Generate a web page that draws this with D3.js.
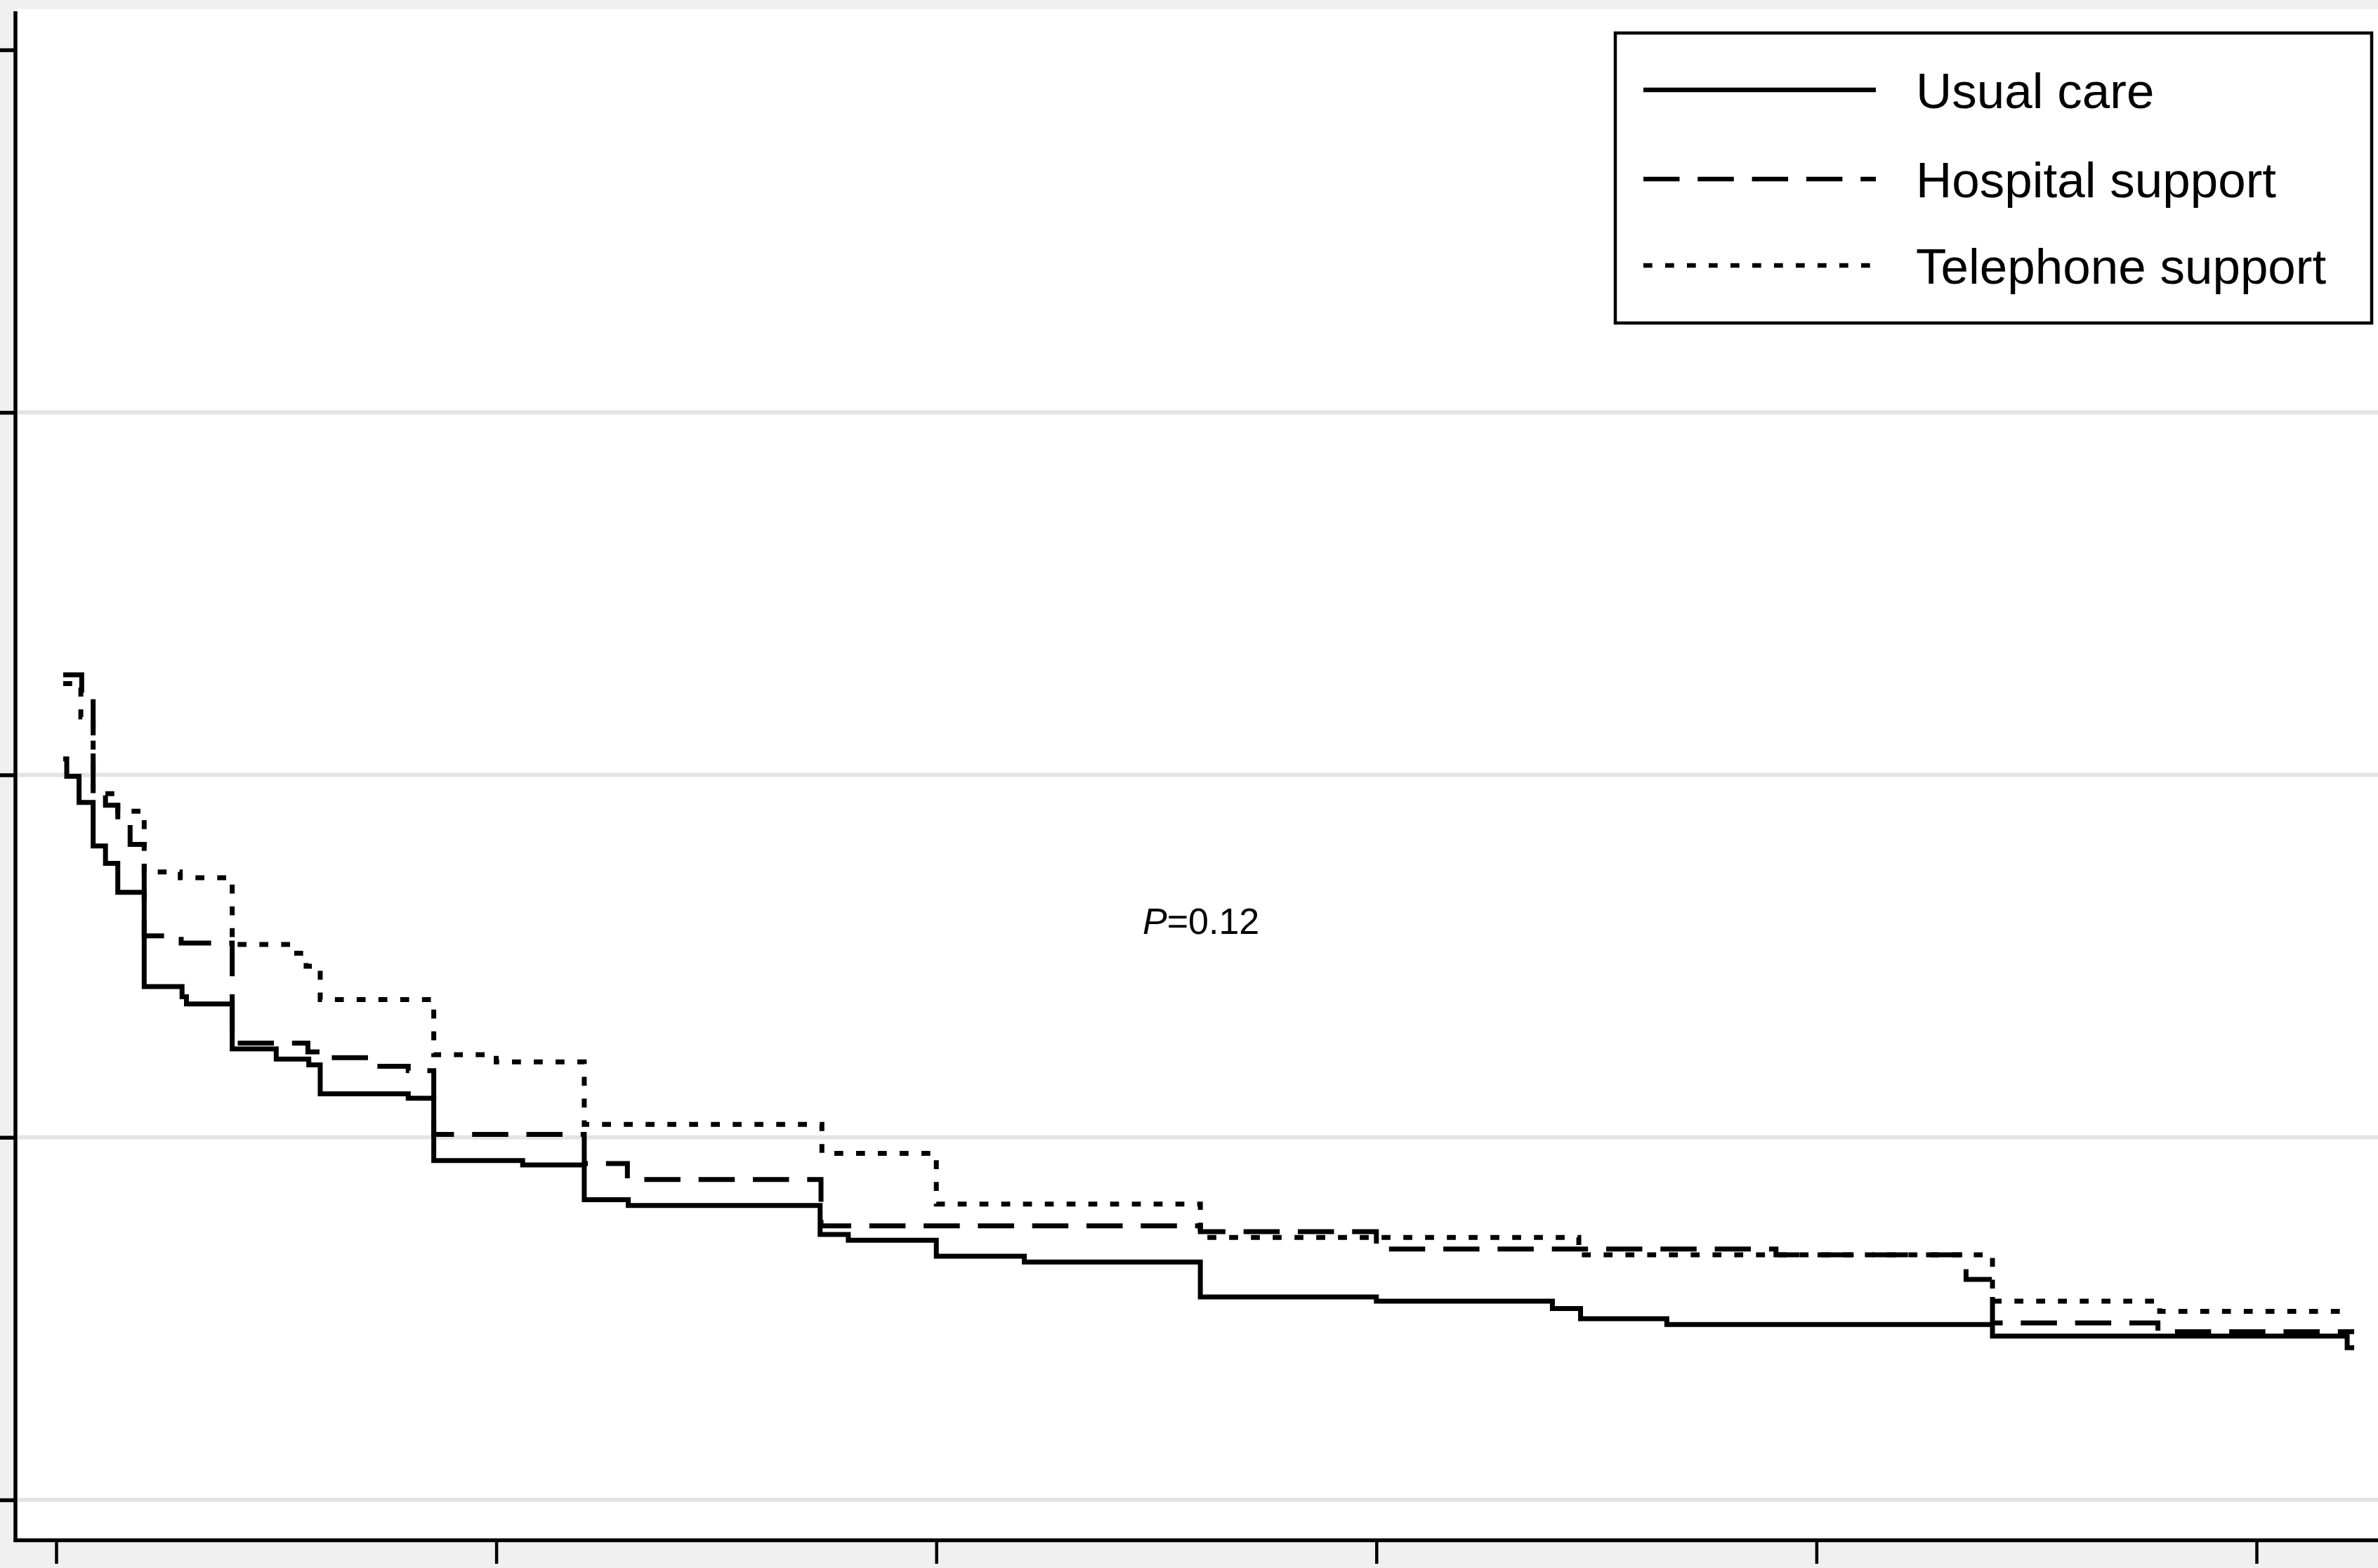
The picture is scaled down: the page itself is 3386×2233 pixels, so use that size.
<!DOCTYPE html>
<html>
<head>
<meta charset="utf-8">
<script src="https://cdn.jsdelivr.net/npm/d3@7"></script>
<style>
  html, body { margin: 0; padding: 0; background: #f0f0f0; }
  svg { display: block; }
</style>
</head>
<body>
<svg id="chart" width="3386" height="2233"></svg>
<script>
// ---------------- DATA ----------------
const xTicks = [0, 5, 10, 15, 20, 25];
const yTicks = [0, 0.25, 0.5, 0.75, 1];

const seriesNames = ["Usual care", "Hospital support", "Telephone support"];

const usualTime = [0.08, 0.12, 0.26, 0.42, 0.56, 0.70, 1.0, 1.43, 1.48, 2.0, 2.5, 2.87, 3.0, 4.0, 4.29, 5.3, 6.0, 6.5, 8.68, 9.0, 10.0, 11.0, 13.0, 15.0, 17.0, 17.32, 18.3, 22.0, 26.03, 26.11];
const usualSurv = [0.511, 0.499, 0.481, 0.451, 0.439, 0.419, 0.354, 0.347, 0.342, 0.311, 0.304, 0.300, 0.280, 0.277, 0.234, 0.231, 0.207, 0.203, 0.183, 0.179, 0.168, 0.164, 0.140, 0.137, 0.132, 0.125, 0.121, 0.113, 0.105, 0.105];

const hospTime = [0.08, 0.29, 0.42, 0.56, 0.70, 0.84, 1.0, 1.42, 2.0, 2.86, 3.0, 3.58, 4.0, 4.29, 6.0, 6.49, 8.69, 13.0, 15.0, 19.54, 21.7, 22.0, 23.88, 26.11];
const hospSurv = [0.569, 0.553, 0.486, 0.479, 0.469, 0.452, 0.389, 0.384, 0.315, 0.309, 0.305, 0.299, 0.296, 0.252, 0.232, 0.221, 0.189, 0.185, 0.173, 0.169, 0.152, 0.122, 0.116, 0.116];

const teleTime = [0.08, 0.28, 0.42, 0.70, 1.0, 1.41, 2.0, 2.70, 2.84, 3.0, 4.29, 5.0, 6.0, 8.7, 10.0, 13.0, 17.3, 22.0, 23.9, 26.09];
const teleSurv = [0.563, 0.540, 0.487, 0.475, 0.433, 0.429, 0.383, 0.377, 0.368, 0.345, 0.307, 0.302, 0.259, 0.239, 0.204, 0.181, 0.169, 0.137, 0.130, 0.130];

const pText = "=0.12";

// ---------------- LAYOUT ----------------
const W = 3386, H = 2233;
const plotLeft = 22, plotRight = 3386, plotTop = 13, plotBottom = 2193;
const FONT = "'Liberation Sans', Arial, Helvetica, sans-serif";

const svg = d3.select("#chart");

const x = d3.scaleLinear().domain([0, 25]).range([80, 3213]);
const y = d3.scaleLinear().domain([0, 1]).range([2136, 71]);

// background
svg.append("rect").attr("x", 0).attr("y", 0).attr("width", W).attr("height", H).attr("fill", "#f0f0f0");
svg.append("rect").attr("x", plotLeft).attr("y", plotTop)
  .attr("width", plotRight - plotLeft).attr("height", plotBottom - plotTop).attr("fill", "#ffffff");

// gridlines
svg.append("g").selectAll("line")
  .data(yTicks.filter(d => d < 1))
  .join("line")
  .attr("x1", plotLeft + 3).attr("x2", plotRight)
  .attr("y1", d => y(d)).attr("y2", d => y(d))
  .attr("stroke", "#e4e4e4").attr("stroke-width", 6);

// curves
const line = d3.line()
  .x(d => x(d[0]))
  .y(d => y(d[1]))
  .curve(d3.curveStepAfter);

const series = [
  { name: seriesNames[0], t: usualTime, s: usualSurv, dash: null },
  { name: seriesNames[1], t: hospTime, s: hospSurv, dash: "51.5,25.8" },
  { name: seriesNames[2], t: teleTime, s: teleSurv, dash: "12.7,18.3" }
];

const curveG = svg.append("g");
[2, 1, 0].forEach(i => {
  const sr = series[i];
  const pts = sr.t.map((t, k) => [t, sr.s[k]]);
  curveG.append("path")
    .attr("d", line(pts))
    .attr("fill", "none")
    .attr("stroke", "#000")
    .attr("stroke-width", 7)
    .attr("stroke-linejoin", "miter")
    .attr("stroke-linecap", "butt")
    .attr("stroke-dasharray", sr.dash);
});

// axes
const yAxis = d3.axisLeft(y).tickValues(yTicks).tickSize(32).tickSizeOuter(0).tickFormat("");
const yg = svg.append("g").attr("transform", `translate(${plotLeft},0)`).call(yAxis);
yg.select(".domain").remove();
yg.selectAll(".tick line").attr("stroke", "#000").attr("stroke-width", 5.5);
svg.append("line").attr("x1", plotLeft).attr("x2", plotLeft)
  .attr("y1", 16).attr("y2", plotBottom + 2.5)
  .attr("stroke", "#000").attr("stroke-width", 5.5);

const xAxis = d3.axisBottom(x).tickValues(xTicks).tickSize(32).tickSizeOuter(0).tickFormat("");
const xg = svg.append("g").attr("transform", `translate(0,${plotBottom + 2})`).call(xAxis);
xg.select(".domain").remove();
xg.selectAll(".tick line").attr("stroke", "#000").attr("stroke-width", 4.5);
svg.append("line").attr("x1", plotLeft - 2.75).attr("x2", plotRight)
  .attr("y1", plotBottom + 0.5).attr("y2", plotBottom + 0.5)
  .attr("stroke", "#000").attr("stroke-width", 5.5);

// P value annotation
const pt = svg.append("text")
  .attr("x", 1627).attr("y", 1330)
  .attr("font-family", FONT)
  .attr("font-size", 52)
  .attr("fill", "#000");
pt.append("tspan").attr("font-style", "italic").text("P");
pt.append("tspan").text(pText);

// legend
const lg = svg.append("g");
lg.append("rect").attr("x", 2300).attr("y", 47).attr("width", 1077).attr("height", 413)
  .attr("fill", "#fff").attr("stroke", "#000").attr("stroke-width", 4.5);
const rowY = [128, 255, 378];
series.forEach((sr, i) => {
  lg.append("line")
    .attr("x1", 2340).attr("x2", 2671)
    .attr("y1", rowY[i]).attr("y2", rowY[i])
    .attr("stroke", "#000").attr("stroke-width", 6.5)
    .attr("stroke-dasharray", sr.dash);
  lg.append("text")
    .attr("x", 2728).attr("y", rowY[i] + 26)
    .attr("font-family", FONT)
    .attr("font-size", 71)
    .attr("fill", "#000")
    .text(sr.name);
});
</script>
</body>
</html>
